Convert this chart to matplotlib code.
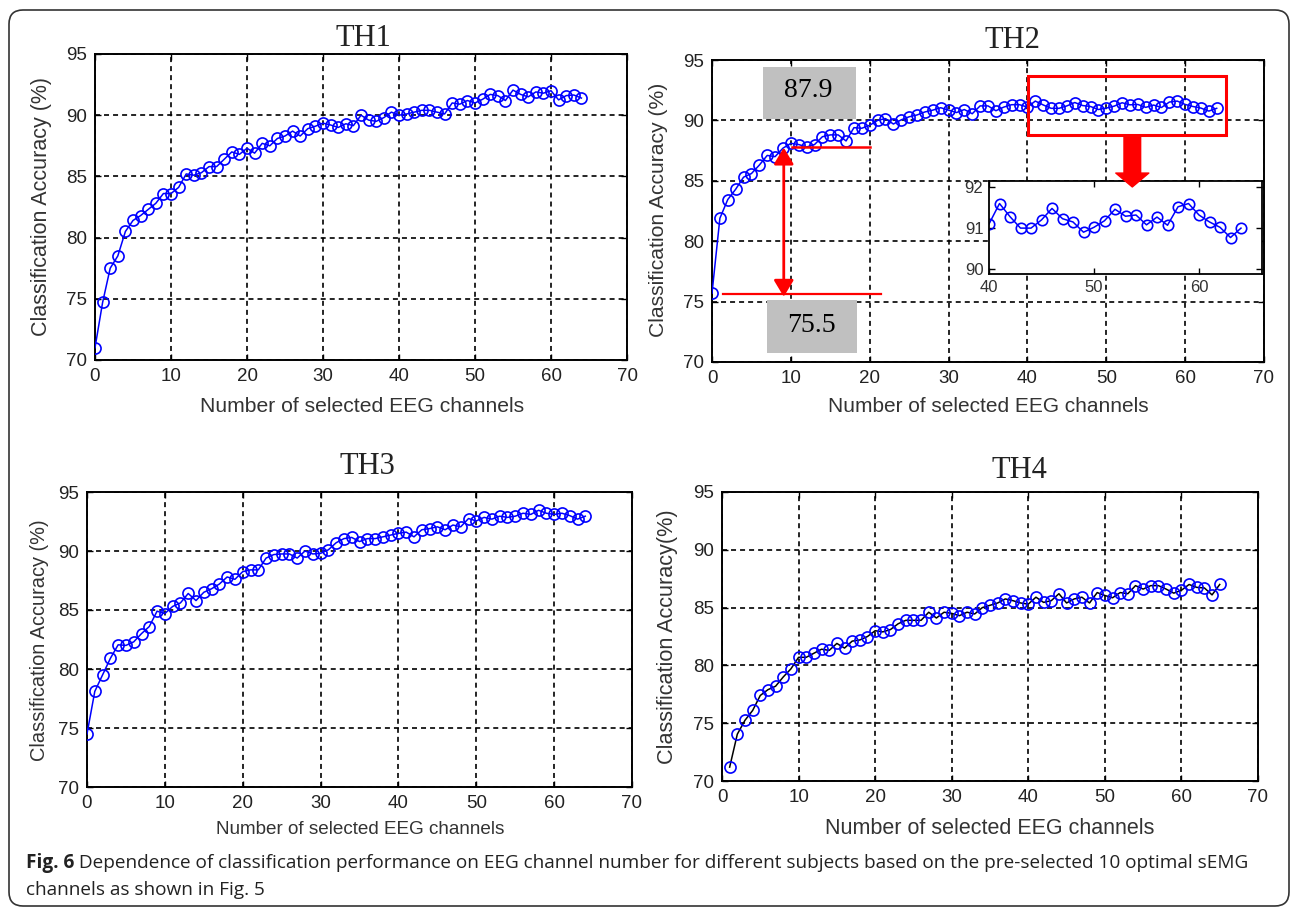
import matplotlib
matplotlib.use('Agg')
import matplotlib.pyplot as plt
import matplotlib.patches as mpatches
import matplotlib.transforms as mtransforms
import numpy as np

## data
x_th1 = np.arange(0, 65)
acc_th1 = [71.0, 74.7, 77.5, 78.5, 80.5, 81.4, 81.8, 82.3, 82.8, 83.6,
           83.6, 84.1, 85.2, 85.1, 85.3, 85.8, 85.8, 86.4, 87.0, 86.8,
           87.3, 86.9, 87.7, 87.5, 88.1, 88.3, 88.7, 88.3, 88.9, 89.1,
           89.35, 89.2, 89.0, 89.3, 89.15, 90.0, 89.6, 89.5, 89.8, 90.25,
           90.0, 90.1, 90.25, 90.4, 90.4, 90.25, 90.1, 91.0, 90.9, 91.2,
           91.0, 91.3, 91.7, 91.6, 91.2, 92.05, 91.7, 91.5, 91.9, 91.8,
           92.0, 91.25, 91.6, 91.65, 91.4]

x_th2 = np.arange(0, 65)
acc_th2 = [75.7, 81.9, 83.45, 84.3, 85.3, 85.6, 86.3, 87.1, 87.0, 87.7,
           88.1, 88.0, 87.8, 88.0, 88.65, 88.8, 88.8, 88.3, 89.4, 89.35,
           89.6, 90.0, 90.15, 89.7, 90.05, 90.3, 90.45, 90.7, 90.85, 91.05,
           90.85, 90.65, 90.9, 90.55, 91.2, 91.2, 90.8, 91.1, 91.3, 91.3,
           91.1, 91.6, 91.28, 91.0, 91.0, 91.2, 91.48, 91.23, 91.15, 90.9,
           91.02, 91.18, 91.46, 91.29, 91.32, 91.08, 91.27, 91.07, 91.52, 91.6,
           91.32, 91.15, 91.02, 90.77, 91.0]

x_th3 = np.arange(0, 65)
acc_th3 = [74.5, 78.1, 79.5, 80.9, 82.05, 82.0, 82.3, 83.0, 83.6, 84.9,
           84.7, 85.3, 85.6, 86.4, 85.8, 86.5, 86.8, 87.2, 87.8, 87.6,
           88.25, 88.4, 88.4, 89.4, 89.7, 89.75, 89.75, 89.4, 90.0, 89.75,
           89.8, 90.1, 90.7, 91.05, 91.15, 90.8, 91.05, 91.05, 91.2, 91.35,
           91.5, 91.6, 91.2, 91.8, 91.9, 92.05, 91.8, 92.2, 92.05, 92.75,
           92.55, 92.85, 92.7, 92.95, 92.85, 92.95, 93.2, 93.1, 93.45, 93.2,
           93.1, 93.2, 93.0, 92.7, 92.95]

x_th4 = np.arange(1, 66)
acc_th4 = [71.2, 74.05, 75.25, 76.1, 77.4, 77.9, 78.2, 79.0, 79.7, 80.7,
           80.7, 81.05, 81.4, 81.3, 81.9, 81.5, 82.1, 82.2, 82.5, 83.0,
           82.9, 83.1, 83.6, 83.9, 83.9, 83.9, 84.6, 84.1, 84.6, 84.5,
           84.3, 84.6, 84.45, 85.0, 85.2, 85.4, 85.75, 85.6, 85.4, 85.3,
           85.9, 85.45, 85.6, 86.2, 85.4, 85.75, 85.9, 85.4, 86.3, 86.05,
           85.85, 86.3, 86.2, 86.9, 86.6, 86.9, 86.9, 86.6, 86.25, 86.5,
           87.0, 86.75, 86.7, 86.1, 87.0]

x_ticks = [0, 10, 20, 30, 40, 50, 60, 70]
y_ticks = [70, 75, 80, 85, 90, 95]
inset_from = 40  # zoomed region of TH2
low_label, high_label = '75.5', '87.9'

caption_bold = 'Fig. 6'
caption_1 = (' Dependence of classification performance on EEG channel number for different'
             ' subjects based on the pre-selected 10 optimal sEMG')
caption_2 = 'channels as shown in Fig. 5'

W, H = 1292, 908
plt.rcParams['lines.scale_dashes'] = False
fig = plt.figure(figsize=(W / 100, H / 100), dpi=100)


def fx(px):
    return px / W


def fy(py):
    return 1 - py / H


def rect(l, t, r, b):
    return [fx(l), fy(b), (r - l) / W, (b - t) / H]


## layout of each panel in pixels: axes box, title, ylabel, xlabel (centres)
panels = [
    dict(name='TH1', x=x_th1, y=acc_th1, box=(95, 54, 627, 360), title=(363, 38),
         ylab=(42, 207, 15.5), xlab=(362, 406, 15.2), ylabel='Classification Accuracy (%)', lc='blue'),
    dict(name='TH2', x=x_th2, y=acc_th2, box=(712, 60, 1264, 362), title=(1012, 40),
         ylab=(658, 210, 15.2), xlab=(988, 407, 15.0), ylabel='Classification Accuracy (%)', lc='blue'),
    dict(name='TH3', x=x_th3, y=acc_th3, box=(87, 492, 632, 787), title=(367, 467),
         ylab=(40, 640, 14.4), xlab=(360, 830, 13.6), ylabel='Classification Accuracy (%)', lc='blue'),
    dict(name='TH4', x=x_th4, y=acc_th4, box=(722, 492, 1258, 781), title=(1019, 470),
         ylab=(667, 637, 15.6), xlab=(990, 828, 15.5), ylabel='Classification Accuracy(%)', lc='black'),
]

sans = 'Liberation Sans'
serif = 'Liberation Serif'
axes = {}
for p in panels:
    ax = fig.add_axes(rect(*p['box']))
    ax.plot(p['x'], p['y'], color=p['lc'], lw=1.1, marker='o', ms=8,
            mfc='none', mec='#0000ff', mew=1.2, zorder=3)
    ax.set_xlim(0, 70)
    ax.set_ylim(70, 95)
    ax.set_xticks(x_ticks)
    ax.set_yticks(y_ticks)
    ax.grid(True, color='black', lw=1.2, linestyle=(0, (3.6, 2.9)))
    ax.tick_params(direction='in', top=True, right=True, length=4, width=1,
                   labelsize=13.5, pad=6)
    for lab in ax.get_xticklabels() + ax.get_yticklabels():
        lab.set_family(sans)
        lab.set_color('#222222')
    for s in ax.spines.values():
        s.set_linewidth(1.4)
    fig.text(fx(p['title'][0]), fy(p['title'][1]), p['name'], ha='center', va='center',
             family=serif, fontsize=22, color='#222222')
    fig.text(fx(p['ylab'][0]), fy(p['ylab'][1]), p['ylabel'], rotation=90, ha='center',
             va='center', family=sans, fontsize=p['ylab'][2], color='#333333')
    fig.text(fx(p['xlab'][0]), fy(p['xlab'][1]), 'Number of selected EEG channels',
             ha='center', va='center', family=sans, fontsize=p['xlab'][2], color='#333333')
    axes[p['name']] = ax

## annotations on TH2
ax = axes['TH2']
red = '#ff0000'
grey = '#c0c0c0'
ax.add_patch(mpatches.Rectangle((6.47, 90.12), 11.79, 4.3, facecolor=grey, edgecolor='none', zorder=4))
ax.text(12.2, 92.46, high_label, ha='center', va='center', family=serif, fontsize=20, zorder=5)
ax.add_patch(mpatches.Rectangle((6.97, 70.74), 11.42, 4.39, facecolor=grey, edgecolor='none', zorder=4))
ax.text(12.55, 73.06, low_label, ha='center', va='center', family=serif, fontsize=20, zorder=5)
ax.plot([10.1, 20.0], [87.82, 87.82], color=red, lw=1.8, zorder=5)
ax.plot([1.42, 21.4], [75.63, 75.63], color=red, lw=1.6, zorder=5)
ax.annotate('', xy=(9.1, 87.75), xytext=(9.1, 75.4),
            arrowprops=dict(arrowstyle='<|-|>,head_width=0.3,head_length=0.5', color=red,
                            lw=2.0, shrinkA=0, shrinkB=0, mutation_scale=20), zorder=6)
ax.add_patch(mpatches.Rectangle((40.07, 88.79), 25.13, 4.89, fill=False, edgecolor=red, lw=2.2, zorder=6))

## inset with the zoomed TH2 tail
ax_in = fig.add_axes(rect(989, 181, 1262, 274))
ax_in.plot(x_th2[inset_from:], acc_th2[inset_from:], color='blue', lw=1.1, marker='o', ms=7.5,
           mfc='none', mec='#0000ff', mew=1.2)
ax_in.set_xlim(40, 66)
ax_in.set_ylim(89.88, 92.15)
ax_in.set_xticks([40, 50, 60])
ax_in.set_yticks([90, 91, 92])
ax_in.tick_params(direction='in', top=True, right=True, length=4, width=1, labelsize=12, pad=4)
for lab in ax_in.get_xticklabels() + ax_in.get_yticklabels():
    lab.set_family(sans)
    lab.set_color('#333333')
for s in ax_in.spines.values():
    s.set_linewidth(1.3)
ax_in.annotate('', xy=(53.3, 84.49), xycoords=ax.transData, xytext=(53.3, 88.79),
               textcoords=ax.transData, annotation_clip=False,
               arrowprops=dict(arrowstyle='simple,head_width=1.19,head_length=0.5,tail_width=0.6',
                               color=red, shrinkA=0, shrinkB=0, mutation_scale=20))

## caption
cap_font = 'Open Sans'
cap_size = 13.65
t_bold = fig.text(fx(26), fy(863), caption_bold, ha='left', va='center', family=cap_font,
                  weight='bold', fontsize=cap_size, color='#222222')
renderer = fig.canvas.get_renderer()
bb = t_bold.get_window_extent(renderer)
fig.text(bb.x1 / W, fy(863), caption_1, ha='left', va='center', family=cap_font,
         fontsize=cap_size, color='#222222')
fig.text(fx(26), fy(890), caption_2, ha='left', va='center', family=cap_font,
         fontsize=cap_size, color='#222222')

## rounded frame round the whole figure
frame = mpatches.FancyBboxPatch((9, 2), 1280, 896, boxstyle='round,pad=0,rounding_size=14',
                                transform=mtransforms.IdentityTransform(), fill=False,
                                edgecolor='#333333', lw=1.2)
fig.patches.append(frame)

fig.savefig('out.png', dpi=100)
